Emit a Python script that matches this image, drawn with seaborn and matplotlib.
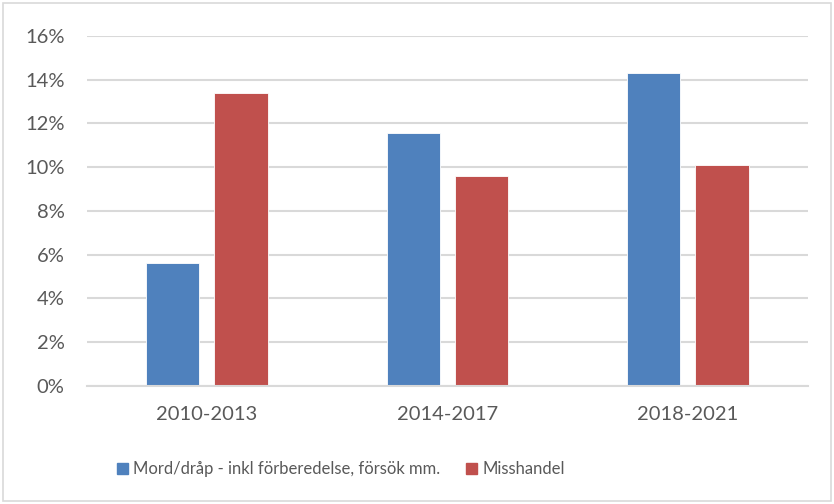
import matplotlib
matplotlib.use('Agg')
import matplotlib.pyplot as plt
import matplotlib.patches as mpatches
import seaborn as sns
import pandas as pd

periods = ['2010-2013', '2014-2017', '2018-2021']
series = ['Mord/dråp - inkl förberedelse, försök mm.', 'Misshandel']
mord = [5.6, 11.55, 14.3]
misshandel = [13.4, 9.6, 10.1]
colors = ['#4F81BD', '#C0504D']

sns.set_theme(style='white')
plt.rcParams['font.family'] = ['Lato', 'DejaVu Sans']

data = pd.DataFrame({
    'period': periods * 2,
    'serie': [series[0]] * 3 + [series[1]] * 3,
    'value': mord + misshandel,
})

fig = plt.figure(figsize=(8.34, 5.04), dpi=100)
ax = fig.add_axes([0.104, 0.234, 0.865, 0.695])

sns.barplot(data=data, x='period', y='value', hue='serie', palette=colors,
            width=0.567, gap=0.22, ax=ax, legend=False, saturation=1)
for bar in ax.patches:
    bar.set_edgecolor('white')
    bar.set_linewidth(0.6)

ax.set_ylim(0, 16)
ax.set_xlim(-0.5, 2.5)
ax.set_yticks(range(0, 17, 2))
ax.set_yticklabels([f'{v}%' for v in range(0, 17, 2)])
ax.yaxis.grid(True, color='#d9d9d9', linewidth=1.5)
ax.set_axisbelow(True)
for side in ['left', 'right', 'top']:
    ax.spines[side].set_visible(False)
ax.spines['bottom'].set_color('#d9d9d9')
ax.spines['bottom'].set_linewidth(1.5)
ax.tick_params(axis='both', length=0, labelsize=14.5, labelcolor='#595959')
ax.tick_params(axis='x', pad=14)
ax.tick_params(axis='y', pad=16)
ax.set_xlabel('')
ax.set_ylabel('')

handles = [mpatches.Patch(color=c, label=s) for c, s in zip(colors, series)]
fig.legend(handles=handles, loc='center left', bbox_to_anchor=(0.14, 0.069), ncol=2,
           frameon=False, fontsize=12, handlelength=0.7, handleheight=0.7,
           handletextpad=0.3, columnspacing=1.5, labelcolor='#595959',
           borderpad=0, borderaxespad=0)

fig.patches.append(mpatches.Rectangle((0.004, 0.006), 0.992, 0.988, transform=fig.transFigure,
                                      fill=False, edgecolor='#d9d9d9', linewidth=1.2))

fig.savefig('out.png', dpi=100, facecolor='white')
